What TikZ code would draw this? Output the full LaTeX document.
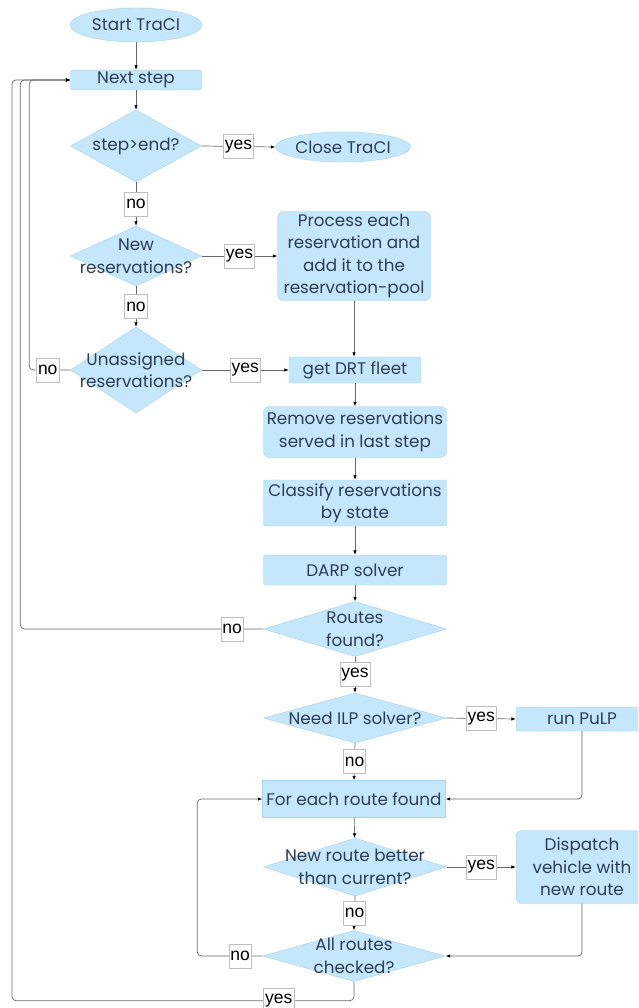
\documentclass[tikz,border=0pt]{standalone}
\usepackage{fontspec}
\setmainfont{Poppins}
\newfontfamily\labfont{Liberation Sans}
\usetikzlibrary{shapes.geometric,arrows.meta}
\definecolor{fillb}{HTML}{C4E7FB}
\definecolor{edgeb}{HTML}{A9D3EE}
\definecolor{txt}{HTML}{2E3D55}
\definecolor{ln}{HTML}{6A6A6A}
\begin{document}
\begin{tikzpicture}[x=1pt,y=-1pt,
  mfont/.style={font=\fontsize{16.8}{22.5}\selectfont},
  box/.style={rectangle, fill=fillb, draw=edgeb, text=txt, align=center, inner sep=0pt, mfont},
  rbox/.style={box, rounded corners=6pt},
  sbox/.style={box, rounded corners=2pt},
  oval/.style={ellipse, fill=fillb, draw=edgeb, text=txt, inner sep=0pt, mfont},
  dia/.style={diamond, fill=fillb, draw=edgeb, inner sep=0pt},
  dtext/.style={text=txt, align=center, inner sep=0pt, mfont},
  lab/.style={sharp corners, fill=white, draw=black!25, text=black, inner xsep=1.5pt, inner ysep=0pt,
    minimum height=24pt, font=\labfont\fontsize{17.5}{19}\selectfont},
  conn/.style={draw=ln, line width=0.7pt, rounded corners=4pt, -{Latex[length=4.5pt,width=3.5pt,color=black]}}
]
\clip (0,0) rectangle (638,1008);
\fill[white] (0,0) rectangle (638,1008);

\node[oval, minimum width=132, minimum height=34] (st) at (136,25) {Start TraCI};
\node[sbox, minimum width=131, minimum height=20] (ns) at (136,80) {Next step};
\node[dia, minimum width=131, minimum height=72, label={[dtext]center:step>end?}] (se) at (136,146) {};
\node[oval, minimum width=134, minimum height=30] (ct) at (343,147) {Close TraCI};
\node[dia, minimum width=131, minimum height=60, label={[dtext]center:New\\reservations?}] (nr) at (136,256) {};
\node[rbox, minimum width=153, minimum height=89] (pr) at (354,256) {Process each\\reservation and\\add it to the\\reservation-pool};
\node[dia, minimum width=131, minimum height=86, label={[dtext]center:Unassigned\\reservations?}] (ur) at (136,370) {};
\node[sbox, minimum width=132, minimum height=26] (drt) at (355,370) {get DRT fleet};
\node[rbox, minimum width=183, minimum height=51] (rm) at (355,432) {Remove reservations\\served in last step};
\node[sbox, minimum width=183, minimum height=46] (cl) at (355,503) {Classify reservations\\by state};
\node[sbox, minimum width=183, minimum height=30] (dp) at (355,570) {DARP solver};
\node[dia, minimum width=183, minimum height=55, label={[dtext]center:Routes\\found?}] (rf) at (355,629) {};
\node[dia, minimum width=183, minimum height=50, label={[dtext]center:Need ILP solver?}] (ilp) at (355,718) {};
\node[sbox, minimum width=132, minimum height=24] (pl) at (582,719) {run PuLP};
\node[box, minimum width=183, minimum height=37] (fe) at (354,799) {For each route found};
\node[dia, minimum width=183, minimum height=58, label={[dtext]center:New route better\\than current?}] (nb) at (355,867) {};
\node[rbox, minimum width=132, minimum height=73] (dv) at (582,867) {Dispatch\\vehicle with\\new route};
\node[dia, minimum width=183, minimum height=51, label={[dtext]center:All routes\\checked?}] (ar) at (354,956) {};

\draw[conn] (st) -- (ns);
\draw[conn] (ns) -- (se);
\draw[conn] (se.east) -- node[lab]{yes} (ct.west);
\draw[conn] (se.south) -- node[lab]{no} (nr.north);
\draw[conn] (nr.east) -- node[lab]{yes} (pr.west);
\draw[conn] (nr.south) -- node[lab]{no} (ur.north);
\draw[conn] (ur.east) -- node[lab]{yes} (drt.west);
\draw[conn] (ur.west) -- node[lab, pos=0.55]{no} ++(-41,0) |- (ns.west);
\draw[conn] (pr.south) -- (drt.north -| pr.south);
\draw[conn] (drt) -- (rm);
\draw[conn] (rm) -- (cl);
\draw[conn] (cl) -- (dp);
\draw[conn] (dp) -- (rf);
\draw[conn] (rf.west) -- node[lab, pos=0.128]{no} ++(-243,0) |- (ns.west);
\draw[conn] (rf.south) -- node[lab]{yes} (ilp.north);
\draw[conn] (ilp.east) -- node[lab]{yes} (pl.west);
\draw[conn] (ilp.south) -- node[lab]{no} (fe.north);
\draw[conn] (pl.south) |- (fe.east);
\draw[conn] (fe) -- (nb);
\draw[conn] (nb.east) -- node[lab]{yes} (dv.west);
\draw[conn] (nb.south) -- node[lab]{no} (ar.north);
\draw[conn] (dv.south) |- (ar.east);
\draw[conn] (ar.west) -- node[lab, pos=0.34]{no} ++(-65,0) |- (fe.west);
\draw[conn] (ar.south) -- ++(0,19) -- node[lab, pos=0.22]{yes} ++(-342,0) |- (ns.west);
\end{tikzpicture}
\end{document}
